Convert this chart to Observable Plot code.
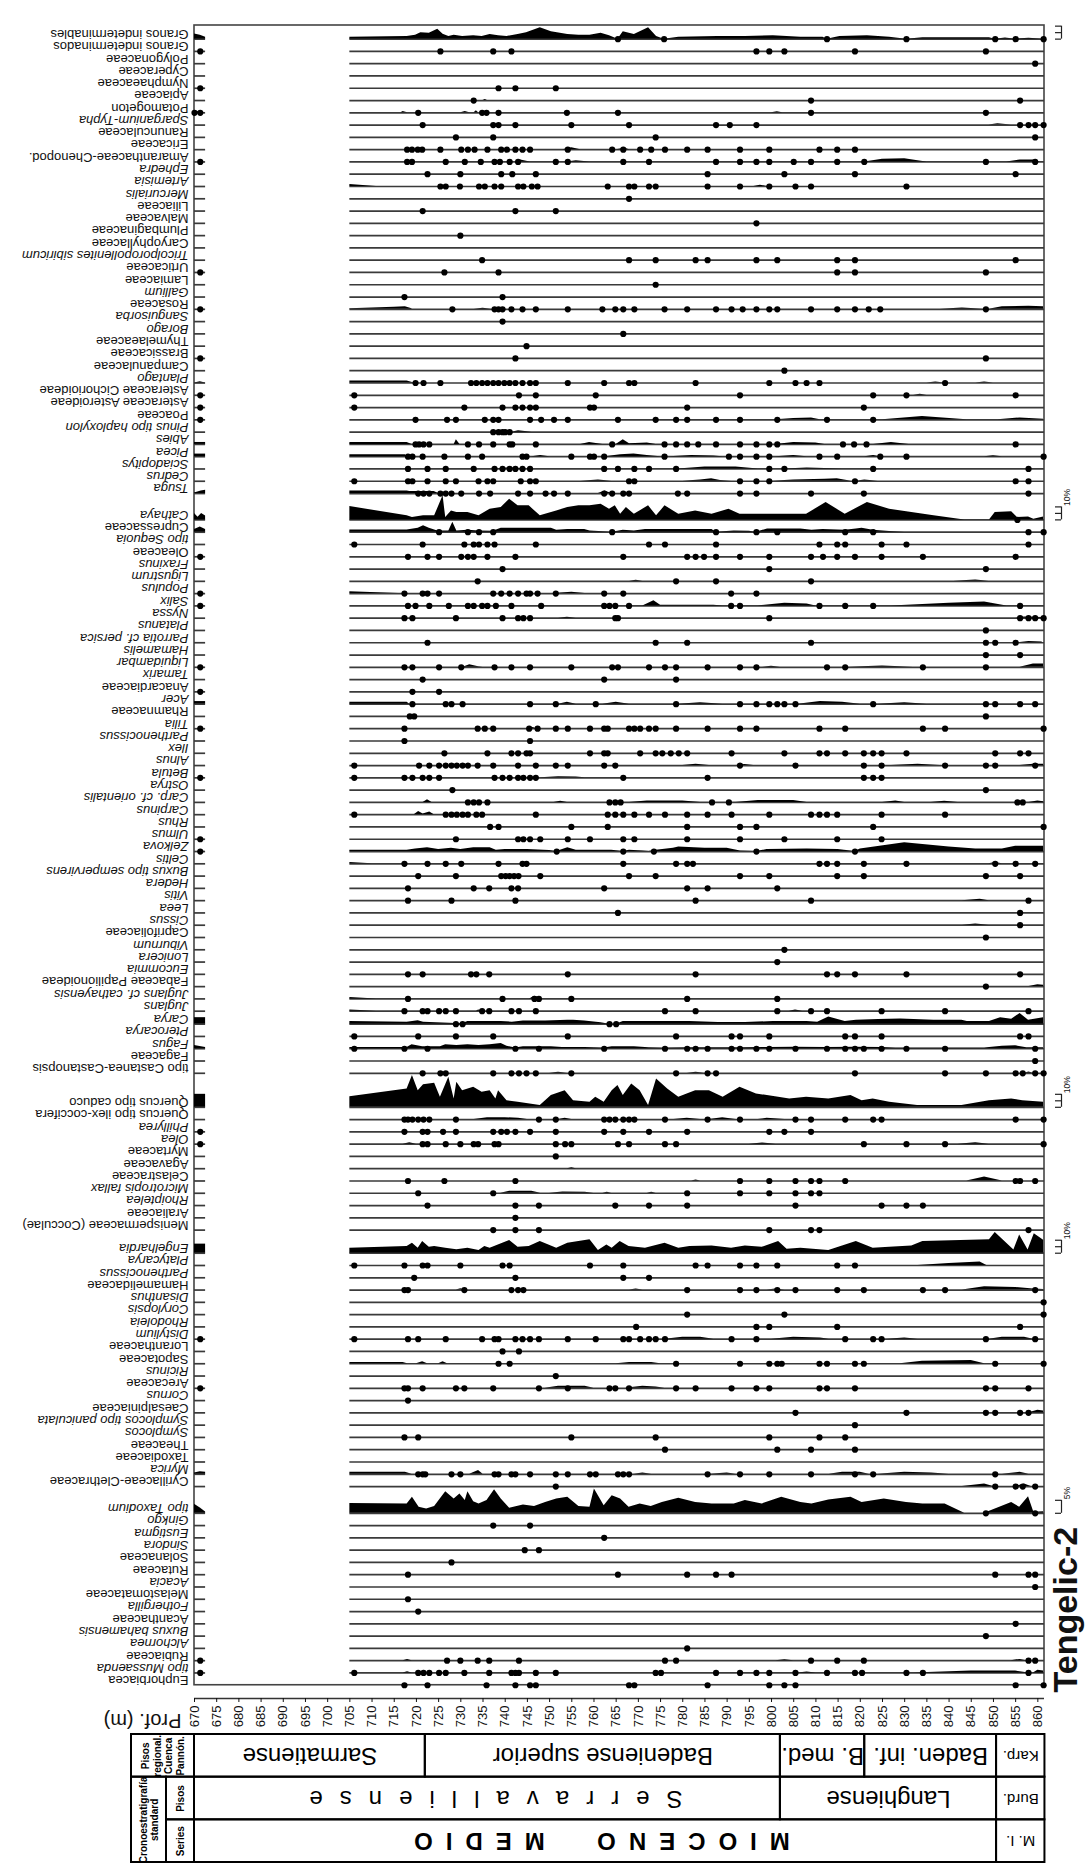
<!DOCTYPE html>
<html><head><meta charset="utf-8">
<script src="https://cdn.jsdelivr.net/npm/d3@7"></script>
<script src="https://cdn.jsdelivr.net/npm/@observablehq/plot@0.6"></script>
<style>
html,body{margin:0;padding:0;background:#fff;}
#chart svg{display:block;overflow:visible;}
</style></head><body><div id="chart"></div>
<script>
// ---------------- DATA ----------------
const depthTicks = [670,675,680,685,690,695,700,705,710,715,720,725,730,735,740,745,750,755,760,765,770,775,780,785,790,795,800,805,810,815,820,825,830,835,840,845,850,855,860];
const depthMin = 670, depthMax = 861.5;
const sampledSpans = [[670, 672.5], [705, 861.5]];

const taxaHerbs = ["Granos indeterminables","Granos indeterminados","Polygonaceae","Cyperaceae","Nymphaeaceae","Apiaceae","Potamogeton","Sparganium-Typha","Ranunculaceae","Ericaceae","Amaranthaceae-Chenopod.","Ephedra","Artemisia","Mercurialis","Liliaceae","Malvaceae","Plumbaginaceae","Caryophyllaceae","Tricolporopollenites sibiricum","Urticaceae","Lamiaceae","Gallium","Rosaceae","Sanguisorba","Borago","Thymelaeaceae","Brassicaceae","Campanulaceae","Plantago","Asteraceae Cichorioideae","Asteraceae Asteroideae","Poaceae","Pinus tipo haploxylon","Abies","Picea","Sciadopitys","Cedrus","Tsuga"];
const taxaTemperate = ["Cathaya","Cupressaceae","tipo Sequoia","Oleaceae","Fraxinus","Ligustrum","Populus","Salix","Nyssa","Platanus","Parrotia cf. persica","Hamamelis","Liquidambar","Tamarix","Anacardiaceae","Acer","Rhamnaceae","Tilia","Parthenocissus","Ilex","Alnus","Betula","Ostrya","Carp. cf. orientalis","Carpinus","Rhus","Ulmus","Zelkova","Celtis","Buxus tipo sempervirens","Hedera","Vitis","Leea","Cissus","Caprifoliaceae","Viburnum","Lonicera","Eucommia","Fabaceae Papilionoideae","Juglans cf. cathayensis","Juglans","Carya","Pterocarya","Fagus","Fagaceae","tipo Castanea-Castanopsis"];
const taxaQuercus = ["Quercus tipo caduco","Quercus tipo ilex-coccifera","Phillyrea","Olea","Myrtaceae","Agavaceae","Celastraceae","Microtropis fallax","Rhoiptelea","Araliaceae","Menispermaceae (Cocculae)"];
const taxaSubtropical = ["Engelhardia","Platycarya","Parthenocissus#2","Hamamelidaceae","Disanthus","Corylopsis","Rhodoleia","Distylium","Loranthaceae","Sapotaceae","Ricinus","Arecaceae","Cornus","Caesalpiniaceae","Symplocos tipo paniculata","Symplocos","Theaceae","Taxodiaceae","Myrica","Cyrillaceae-Clethraceae"];
const taxaTropical = ["tipo Taxodium","Ginkgo","Eustigma","Sindora","Solanaceae","Rutaceae","Acacia","Melastomataceae","Fothergilla","Acanthaceae","Buxus bahamensis","Alchornea","Rubiaceae","tipo Mussaenda","Euphorbiacea"];

// names written in italics (genus level)
const genusLevel = ["Sparganium-Typha","Ephedra","Artemisia","Mercurialis","Tricolporopollenites sibiricum","Gallium","Sanguisorba","Borago","Plantago","Pinus tipo haploxylon","Abies","Picea","Sciadopitys","Cedrus","Tsuga","Cathaya","tipo Sequoia","Fraxinus","Ligustrum","Populus","Salix","Nyssa","Platanus","Parrotia cf. persica","Hamamelis","Liquidambar","Tamarix","Acer","Tilia","Parthenocissus","Ilex","Alnus","Betula","Ostrya","Carp. cf. orientalis","Carpinus","Rhus","Ulmus","Zelkova","Celtis","Buxus tipo sempervirens","Hedera","Vitis","Leea","Cissus","Viburnum","Lonicera","Eucommia","Juglans cf. cathayensis","Juglans","Carya","Pterocarya","Fagus","Phillyrea","Olea","Microtropis fallax","Rhoiptelea","Engelhardia","Platycarya","Parthenocissus#2","Disanthus","Corylopsis","Rhodoleia","Distylium","Ricinus","Cornus","Symplocos tipo paniculata","Symplocos","Myrica","tipo Taxodium","Ginkgo","Eustigma","Sindora","Acacia","Fothergilla","Buxus bahamensis","Alchornea","tipo Mussaenda"];

// presence dots (depth in m)
const dotsHerbs = [
["Granos indeterminables",[765.4,775.8,812.5,830.4,850.4,855,861.3]],
["Granos indeterminados",[671.3,725.4,737.3,741.4,796.6,799.5,802.9,818.8,848.3]],
["Polygonaceae",[859.4]],
["Nymphaeaceae",[671.3,738.5,742.3,751.4]],
["Apiaceae",[732.9,808.9,856]],
["Potamogeton",[670,671.3,720.4,734.8,735.8,738.5,753.9,765.4,808.9,848.3]],
["Sparganium-Typha",[721.4,737.3,738.5,742.3,754.9,767.9,787.5,790.6,796.6,856,857.9,859.4,861.3]],
["Ranunculaceae",[728.9,737.3,773.9,859.4]],
["Ericaceae",[717.9,719,720.3,721.3,725.4,730.1,731.6,733.1,736,739.1,740.4,742.3,743.9,745.6,754.1,764.1,766.6,770.4,772.9,776,781,785.6,792.9,799.5,810.8,814.8,818.8]],
["Amaranthaceae-Chenopod.",[671.3,717.9,719,726.6,730.9,734.5,737.6,738.8,741,742.9,751.4,754.1,766.6,772.4,787.5,792.9,796.6,799.5,805,808.9,814.8,820.9,848.3,859.4]],
["Ephedra",[722.5,729.9,739.1,741.6,746.9,785.6,802.9,818.8,855]],
["Artemisia",[725.4,726.6,729.8,734.1,735.4,737.6,739.1,742.9,744.1,746,747.3,763.1,767.9,769.1,772.4,773.9,785.6,792.9,799.5,805.4,808.9,830.4]],
["Mercurialis",[767.9]],
["Liliaceae",[721.4,742.3,751.4]],
["Malvaceae",[796.6]],
["Plumbaginaceae",[729.9]],
["Tricolporopollenites sibiricum",[734.8,767.9,773.9,782.9,785.6,796.6,801.3,814.8,818.8,855]],
["Urticaceae",[671.3,726.3,738.5,814.8,818.8,848.3]],
["Lamiaceae",[773.9]],
["Gallium",[717.3,739.4]],
["Rosaceae",[671.3,728.1,737.6,738.5,739.4,741.4,743.9,746.9,754.1,761.9,764.8,766.6,769.1,775.9,781,787.5,791,793.5,796.6,799.5,801.3,808.9,814.8,818.8,821.9,824.5,848.3]],
["Sanguisorba",[739.4]],
["Borago",[766.6]],
["Thymelaeaceae",[744.8]],
["Brassicaceae",[671.3,742.3,848.3]],
["Campanulaceae",[802.9]],
["Plantago",[719.8,721.6,725.4,732.3,733.5,734.8,736,737.3,738.5,739.8,741,742.3,743.9,745.6,746.9,754.1,762.3,767.9,769.1,782.9,799.5,805.4,807.9,810.8,839.1]],
["Asteraceae Cichorioideae",[671.3,706,743.1,746.9,760.4,792.9,822.9,830.4,855]],
["Asteraceae Asteroideae",[671.3,706,730.8,739.4,742.3,743.9,745.6,746.9,759.1,760,781,820.8]],
["Poaceae",[671.3,719.8,726.9,728.9,735.4,737.3,738.5,745.6,748.1,751,754.1,765.4,773.9,778.5,781,787.5,792.9,801.3,812.5,822.9]],
["Pinus tipo haploxylon",[737.3,738.5,739.4,740,741]],
["Abies",[719.8,720.6,721.6,722.9,731.6,734.1,737.3,741,741.6,746.9,764.1,775.9,778.5,781,783.5,787.5,792.9,796.6,799.5,801.3,816.1,818.6,821.4,855]],
["Picea",[718.1,719.1,721.4,726.3,731.6,734.8,743.9,744.8,754.9,759.1,760,762.3,775.9,790.4,792.9,796.6,799.5,810.8,814.8,824.5,830.4,861.3]],
["Sciadopitys",[718.1,722.5,726.6,732.9,737.6,739.4,741,742.3,743.9,745.6,762.3,765.4,769.1,772.4,778.5,799.5,802.9,822.9,857.9]],
["Cedrus",[706,718.1,719.1,722.5,726.6,728.9,734,736,737.3,743.5,745.6,746.9,767.9,769.1,792.9,796.6,799.5,818.8,855,857.9]],
["Tsuga",[720.4,721.6,722.9,725.4,726.6,727.9,730.1,734.1,736.6,742.9,745.6,749.1,751,754.1,762.3,764.1,766.6,767.9,778.9,781,792.9,796.6,808.9,820.8,857.9]]
];
const dotsTemperate = [
["Cathaya",[855.4]],
["Cupressaceae",[725.1,731.6,734.1,737.3,764.1,787.5,796.6,801.3,816.6,822.9,857.9,861.3]],
["tipo Sequoia",[706,721.4,730.8,732.9,734.1,736,737.6,746.9,772.4,776,787.5,810.8,814.8,816.6,824.8,830.4,857.9]],
["Oleaceae",[671.3,718.1,722.5,725.1,730.1,731.6,732.9,736,742.3,766.6,781,782.9,784.8,787.5,792.9,799.5,808.9,811.6,814.8,818.8,824.8,834.1,855]],
["Fraxinus",[739.4,799.5,848.3]],
["Ligustrum",[733.8,778.5,787.5,808.9]],
["Populus",[671.3,717.3,721.4,722.5,725.1,737.3,739.1,741,742.9,744.8,745.6,747.3,751.4,762.3,766.6,790.9,796.6]],
["Salix",[671.3,718.1,719.8,722.9,727.3,731.6,732.9,734.8,736,737.9,741.4,748.1,762.3,763.5,764.8,767.9,790.9,792.9,810.8,816.6,822.9,856]],
["Nyssa",[717.3,719.1,728.9,739.4,742.9,744.1,745.6,764.8,765.4,799.5,856,857.9,859.4,861.3]],
["Platanus",[848.3]],
["Parrotia cf. persica",[722.5,773.9,781,808.9,848.3,850.4,855]],
["Hamamelis",[848.3,856]],
["Liquidambar",[671.3,717.3,719.1,725.1,730.1,737.6,741.4,745.6,754.9,764.1,765.4,772.4,776,778.5,785.6,792.9,796.6,812.5,816.6,834.1,848.3]],
["Tamarix",[721.4,762.3,778.5]],
["Anacardiaceae",[671.3,719.1,725.1]],
["Acer",[719.1,726.6,727.9,730.4,745.6,751.4,760.4,778.5,792.9,796.6,799.5,801.3,802.9,805.4,822.9,848.3,850.4,856,859.4]],
["Rhamnaceae",[718.5,719.5,848.3]],
["Tilia",[671.3,717.3,733.8,735.4,737.3,745.4,747.3,751.4,754.1,759.1,762.3,763.1,767.9,769.1,770.4,772.4,773.9,778.5,785.6,792.9,796.6,810.8,816.6,834.1,839.1,861.3]],
["Parthenocissus",[717.3,745.6]],
["Ilex",[726.3,736,741.4,742.9,744.8,745.6,759.1,762.3,763.1,770.4,773.9,775.4,777.3,779.1,781,791,802.9,810.8,812.5,816.6,820.8,822.9,824.8,830.4,850.4,856,857.9]],
["Alnus",[706,720.6,722.9,725.1,726.6,727.9,729.1,730.4,731.6,733.8,737.3,742.9,746.9,751.4,754.1,762.3,764.8,792.9,805.4,820.8,824.8,839.1,848.3,850.4,859.4]],
["Betula",[671.3,706,717.3,719.1,721.4,722.9,725.1,737.6,739.4,741,742.9,744.1,745.6,746.9,766.6,785.6,820.8,822.9,824.8]],
["Ostrya",[728.1,848.3]],
["Carp. cf. orientalis",[731.6,732.9,734.1,736,763.5,764.8,766,786.6,790.4,855.4,856.6]],
["Carpinus",[706,726.6,727.9,729.1,730.4,731.6,733.5,734.8,746.9,763.1,764.8,766.6,769.1,772.4,776,781,785.6,791,799.5,808.9,810.8,812.5,814.8,824.8,839.1]],
["Rhus",[736.6,738.5,754.9,763.1,781,792.9,796.6,822.9,861.3]],
["Ulmus",[671.3,728.9,742.9,744.1,745.6,747.9,754.1,759.1,766.6,769.1,781,792.9,802.9,814.8,824.8]],
["Zelkova",[671.3,751.6,766.6,773.5,796.6,818.8]],
["Celtis",[717.3,722.5,726.6,730.1,738.5,743.9,744.8,766.6,778.5,781,782.3,810.8,812.5,814.8,820.8,830.4,850.4,855,859.4]],
["Buxus tipo sempervirens",[720.4,728.9,739.1,740.1,741,742,743,747.9,767.9,773.9,792.9,799.5,814.8,820.8,848.3,856]],
["Hedera",[718.1,732.9,736.4,741.4,742.9,762.3,781,785.6,801.3]],
["Vitis",[718.1,727.9,742.3,782.9,808.9,857.9]],
["Leea",[765.4,856]],
["Cissus",[856]],
["Caprifoliaceae",[848.3]],
["Viburnum",[802.9]],
["Lonicera",[801.3]],
["Eucommia",[718.1,721.4,732.3,733.5,736.4,754.1,782.9,812.5,814.8,818.8,830.4,856]],
["Fabaceae Papilionoideae",[848.3]],
["Juglans cf. cathayensis",[718.1,739.4,746.6,747.6,754.9,781,801.3]],
["Juglans",[717.3,721.4,722.5,725.1,726.6,728.9,734.8,736.4,741.4,743.1,746.9,776,782.9,801.3,808.9,812.5,824.8,839.1,857.9]],
["Carya",[728.9,730.4,763.5,765]],
["Pterocarya",[706,720.4,728.9,737.3,754.1,778.5,791,792.9,799.5,816.6,818.8,824.8,856,857.9]],
["Fagus",[706,717.3,722.5,742.3,747.6,762.3,776,781,782.9,785.6,791,792.9,796.6,799.5,805.4,812.5,816.6,818.8,820.8,824.8,830.4,839.1,859.4]],
["Fagaceae",[859.4]],
["tipo Castanea-Castanopsis",[721.4,725.4,726.6,737.3,741.4,743.1,744.8,746.9,754.9,778.5,785.6,787.5,818.8,839.1,848.3,855,856.6,859.4,861.3]]
];
const dotsQuercus = [
["Quercus tipo ilex-coccifera",[717.3,718.1,719.1,720.4,721.6,722.9,728.9,747.6,751.4,762.3,763.5,764.8,766.6,767.9,769.1,776,785.6,792.9,805.4,808.9,816.6,822.9,824.8,855,861.3]],
["Phillyrea",[671.3,717.3,721.4,722.5,726,728.9,737.3,739.1,740.4,742.3,745.6,751.4,762.3,766.6,772.4,781,799.5,802.9,808.9]],
["Olea",[671.3,721.4,722.5,726.6,729.9,732.9,733.9,737.6,738.5,751.4,753.5,754.9,765.4,767.9,776,778.5,820.8,830.4,839.1,861.3]],
["Myrtaceae",[751.4]],
["Celastraceae",[718.1,726.3,742.3,792.9,799.5,805.4,808.9,810.8,816.6,855,856,859.4]],
["Microtropis fallax",[720.4,737.3,781,792.9,799.5,805.4,808.9,810.8]],
["Rhoiptelea",[722.5,742.3,747.6,764.8,772.4,781,805.4,824.8,830.4,834.1]],
["Araliaceae",[742.3]],
["Menispermaceae (Cocculae)",[737.3,742.3,747.6,799.5,808.9,810.8,857.9]]
];
const dotsSubtropical = [
["Platycarya",[706,717.3,721.4,722.5,729.9,739.4,741,759.1,766.6,782.9,785.6,792.9,796.6,801.3,814.8,818.8]],
["Parthenocissus#2",[719.5,742.3,766.6,772.4]],
["Hamamelidaceae",[717.3,718.1,730.8,741.4,742.9,744.1,781,792.9,796.6,801.3,805.4,814.8,820.8,834.1,839.1,859.4]],
["Disanthus",[861.3]],
["Corylopsis",[781,802.9,861.3]],
["Rhodoleia",[769.5,796.6,799.5,814.8,856]],
["Distylium",[671.3,706,718.1,720.4,726.6,734.8,737.6,738.5,742.3,743.9,745.6,747.6,754.1,760.4,766.6,767.9,770.4,772.4,773.9,776,791,796.6,816.6,822.9,824.8,848.3,859.4]],
["Loranthaceae",[739.4,743.1]],
["Sapotaceae",[738.5,741,778.5,792.9,799.5,801.3,802.3,810.8,812.5,818.8,820.8,850.4,861.3]],
["Ricinus",[751.4]],
["Arecaceae",[671.3,717.3,718.1,721.4,728.9,730.8,737.3,747.6,754.1,763.5,764.8,767.9,778.5,782.9,791,796.6,799.5,810.8,812.5,818.8,848.3,850.4,857.9]],
["Cornus",[718.1]],
["Caesalpiniaceae",[805.4,830.4,848.3,850.4,856,857.9]],
["Symplocos tipo paniculata",[818.8]],
["Symplocos",[717.3,720.4,754.9,773.9,799.5,810.8,816.6]],
["Theaceae",[776,801.3,808.9,818.8]],
["Myrica",[720.4,721.4,722,727.9,729.9,737.6,738.5,741.4,742.3,745.6,751.4,754.1,759.1,760.4,765.4,766.6,767.9,785.6,792.9,799.5,808.9,818.8,822.9,850.4]],
["Cyrillaceae-Clethraceae",[751.4,850.4,855,856.6,859.4]]
];
const dotsTropical = [
["tipo Taxodium",[848.3,859.4]],
["Ginkgo",[737.3,745.6]],
["Eustigma",[762.3]],
["Sindora",[744.4,747.6]],
["Solanaceae",[727.9]],
["Rutaceae",[718.1,765.4,781,787.5,791,850.4,857.9,859.4]],
["Acacia",[859.4]],
["Melastomataceae",[718.1]],
["Fothergilla",[720.4]],
["Acanthaceae",[855]],
["Buxus bahamensis",[848.3]],
["Alchornea",[781]],
["Rubiaceae",[671.3,726.9,729.9,733.8,736.4,743.1,776,778.5,808.9,814.8,820.8,857.9,859.4]],
["tipo Mussaenda",[671.3,706,720.4,721.6,722.9,725.1,726.6,730.8,736.4,741.4,742.3,743.1,746.9,751.4,773.9,775.1,787.5,792.9,796.6,799.5,805.4,812.5,818.8,820.4,830.4,834.1,857.9]],
["Euphorbiacea",[717.3,722.5,735.8,742.3,745.6,746.9,767.9,769.1,785.6,799.5,802.9,805.4,855,861.3]]
];

// percentage curves [depth, %]
const majorCurves = [
["Granos indeterminables",[[705,1.5],[717.9,2],[719.8,3],[721,5],[722.9,4.5],[724.8,7.7],[726,3.8],[727.3,2],[728.5,3],[730.4,2],[732.9,2.6],[734.8,2],[736.6,3.6],[738.5,2.6],[740.4,2],[742.9,3.6],[744.8,5],[747.9,8.7],[750.4,5.6],[754.1,3.6],[756.6,3],[759.1,3],[761.6,4.6],[763.5,2.6],[765.4,0],[766.6,5.6],[769.1,3.6],[772.3,8.7],[774.1,2],[775.8,0],[779.1,1.5],[787.9,2],[794.1,2],[800.4,2.6],[806.6,1.5],[811.6,1.5],[812.5,0],[815.4,2],[821.6,2.6],[826.6,1.5],[830.4,0],[834.1,1],[849.1,1],[850.4,0],[852.7,0.8],[855,0],[858,0.6],[861.3,0]]],
["Cathaya",[[705,10.3],[717.9,3.1],[719.1,1.8],[721.6,3.1],[724.1,3.1],[726,18.5],[726.6,1.8],[727.9,6.9],[729.1,5.6],[731.6,5.6],[734.1,3.1],[736.6,8.2],[739.1,9.5],[741,15.9],[742.9,10.8],[745.4,10.8],[747.9,3.1],[751.6,6.9],[754.1,9.5],[756.6,10.8],[759.1,10.8],[761.6,12],[763.5,8.2],[764.8,10.8],[766,4.4],[767.3,9.5],[769.1,4.4],[772.3,10.8],[774.1,3.1],[776,10.8],[779.1,4.4],[782.9,6.9],[786.6,4.4],[790.4,8.2],[792.9,4.4],[800.4,4.4],[807.9,4.4],[812.3,13.3],[816.6,4.4],[821.6,13.3],[826.6,8.2],[831.6,5.6],[836.6,3.1],[843.5,0],[849.1,0],[850.4,5.6],[854.1,6.2],[855.4,1.8],[857.9,2.3],[859.1,0.5],[861.3,2.3]]],
["Cupressaceae",[[705,1.8],[717.9,1.8],[720.4,3],[721.6,5],[722.9,3],[724.8,1],[727.3,1],[728.2,7.7],[729.1,1],[731.6,1.5],[734.1,1],[737.3,0.8],[739.1,3],[745,3],[747.9,3],[750.4,3],[751.6,1.5],[754.1,2],[757.9,2],[759.1,1],[764.1,0],[766.6,1.5],[769.1,1],[771.6,2],[781.6,2],[786.6,2],[787.5,0],[791.6,1],[795,0.8],[796.6,0],[799.1,2.5],[806.6,2.5],[809.1,1.5],[811.6,2],[816.6,1.5],[819.1,2.5],[820.4,3],[822.9,1.5],[826.6,0.5],[830,0],[861.3,0]]],
["Zelkova",[[705,1],[717.9,1],[719.8,2],[722.5,3],[725,1.5],[727.9,2.5],[730,1.5],[732.9,3],[736.6,3],[738,1],[740,1.5],[745,1.5],[750,0.8],[751.6,0],[754.1,3],[756,1],[760,1],[764,1],[766.6,0],[768,1],[771,0.5],[772.4,0],[774,1],[777.9,2.5],[779.1,3.5],[785,2.5],[790,2.5],[793,0.5],[796.6,0],[799,1.5],[808,2],[815,1.5],[818.8,0],[820,2],[830,6.7],[840,3.5],[846,2],[852,2],[855,4],[861.3,4]]],
["Carya",[[705,2],[717.9,1.5],[720.4,2.6],[721.6,1.5],[728.9,0.5],[730.4,0.5],[731.6,2],[739.1,2],[741.6,1.5],[744.1,2.5],[749.1,2.5],[754.1,3],[755.4,3],[757.9,2.5],[761.6,1],[763.5,0],[765,0],[766.6,2],[781.6,2],[788,1.3],[794.1,1.3],[800.4,2],[808,2],[810.4,1.5],[812.9,5.6],[816.6,2],[819.1,3],[824.1,3.6],[829.1,3.9],[836.6,3],[842.9,3],[844.1,2],[849.1,2],[851.6,5],[854.1,3.8],[856,8.2],[857.9,3],[861.3,5]]],
["Fagus",[[705,1],[717.9,1],[719,3],[721.4,1.5],[725.4,1.5],[726.6,3],[729.1,2.5],[731.6,3],[734.1,2.5],[736.6,3],[739.1,4],[740.4,2],[742.3,0.5],[744.1,1.5],[750.4,1.5],[752.9,1],[757.9,1],[762.3,0.5],[764.1,1.5],[769.1,1.5],[772.4,0.8],[775.4,0.5],[781,0.8],[792.9,0.8],[799.5,1],[805,1.2],[812.5,1],[818.8,1.2],[824.8,1],[828,0.5],[848,0.5],[852,2],[855,2.2],[857.5,0.8],[861.3,0.8]]],
["Quercus tipo caduco",[[705,8.2],[717.9,14.1],[719.1,24.4],[720.4,12.8],[721.6,17.4],[724.1,18.5],[725.4,7.7],[727.3,23.1],[728.5,6.4],[729.1,19.2],[730.4,12.8],[732.9,15.4],[734.8,11.5],[736.6,12.8],[737.9,6.4],[738.5,12.8],[740.4,5.1],[742.9,3.8],[747.9,1.3],[750.4,9],[753.5,12.8],[755.4,5.1],[759.1,3.8],[760.4,7.7],[762.3,3.8],[764.1,12.8],[765.4,16.7],[766.6,9],[768.5,17.9],[770.4,12.8],[772.3,1.3],[774.1,21.8],[776.6,14.1],[779.1,7.7],[782.9,12.8],[786,12.8],[789.1,7.7],[792.9,15.4],[796.6,10.3],[801.6,7.7],[804.1,6.4],[807.9,7.7],[812.9,6.4],[817.9,9],[820.4,5.1],[822.9,6.4],[826.6,3.8],[832.9,1.3],[842.9,1.3],[849.1,5.1],[854.1,6.4],[856.6,5.1],[861.3,3.8]]],
["Engelhardia",[[705,3.8],[717.9,5.1],[719.1,7.7],[720.4,3.8],[721.4,9],[722.9,4.6],[724.1,5.1],[726.6,3.8],[729.1,2.6],[731.6,3.8],[734.1,2],[735.4,5.1],[736.6,3.8],[741,9.7],[742.9,4.6],[745.4,5.1],[747.9,9],[751.6,3.8],[754.1,7.7],[759.1,10.3],[761,2],[762.9,6.4],[764.1,3.8],[765.9,9],[767.9,5.1],[771.6,3.8],[776,7.7],[779.1,3.8],[781.6,5.1],[786.6,5.6],[791,3.8],[794.1,5.6],[797.9,4.6],[801.6,9],[803.5,3.1],[806.6,3.8],[812.9,2],[819.1,9],[822.9,3.8],[826.6,4.6],[831.6,5.6],[834.1,9],[849.1,10.3],[850.4,16],[854.6,2.5],[855.9,14],[857.8,2.5],[859.2,15],[861.3,10]]],
["tipo Taxodium",[[705,3.8],[717.9,3.6],[719.1,6.2],[720.6,2.3],[722.3,1.7],[724.1,2.6],[726.6,8.3],[728.5,5.5],[729.8,7.4],[731,4.9],[731.6,8.3],[732.9,4.4],[734.1,3.6],[735.9,4.9],[737.6,9.1],[739.1,5.5],[741,1.9],[744.1,3.2],[746.6,2.6],[749.1,4.2],[751.6,5.5],[754.1,6.2],[756.6,2.6],[759.1,2.3],[760.1,9.4],[762.3,2.9],[764.1,6.8],[766,5.5],[767.9,2.3],[770.4,3.6],[772.9,2.6],[775.4,4.2],[779.1,5.8],[782.9,4.2],[786.6,3.6],[791.6,3.6],[794.1,4.9],[797.9,3.6],[802.3,6.2],[806.6,4.2],[809.1,3.6],[812.9,5.1],[817.9,6.2],[820.4,4.2],[825.4,5.5],[830.4,4.2],[834.1,3.6],[839.1,3.6],[843.5,0],[848,0],[854.1,4.2],[855.9,2.3],[857.9,6.4],[859.1,0.4],[861.3,0.6]]]
];

// small silhouettes [depth, %]
const minorCurves = [
["Potamogeton",[[716.5,0],[717,1],[718,0]]],["Potamogeton",[[730,0],[731,1],[732,0]]],["Potamogeton",[[733,0],[733.5,1.5],[734,0]]],["Potamogeton",[[800,0],[801.3,0.8],[802.5,0]]],
["Apiaceae",[[735,0],[735.5,0.8],[736,0]]],
["Sparganium-Typha",[[849,0],[851,1],[854,0]]],
["Ericaceae",[[753,0],[755,1.5],[757,0]]],["Ericaceae",[[765,0],[767,1],[768,0]]],
["Amaranthaceae-Chenopod.",[[742.3,0],[743.5,1.5],[745.6,0]]],["Amaranthaceae-Chenopod.",[[754,0],[756,1],[759,0]]],["Amaranthaceae-Chenopod.",[[821,0],[825,2],[830,2.5],[833,1],[835,0]]],["Amaranthaceae-Chenopod.",[[853,0],[856,1.5],[859,1.5],[860.5,0]]],
["Artemisia",[[705,1.5],[711,0]]],["Artemisia",[[796,0],[797.5,1],[799,0]]],
["Rosaceae",[[705,0.5],[715,1.5],[717.5,2],[719,0.5]]],["Rosaceae",[[733,0],[735,0.8],[737,0]]],["Rosaceae",[[838,0],[843,1],[848,0]]],["Rosaceae",[[849,0],[852,2],[858,2.3],[861.3,2]]],
["Plantago",[[705,1.5],[717.9,1.5],[719.5,0]]],["Plantago",[[835,0],[837,0.8],[839,0]]],["Plantago",[[846,0],[848,0.8],[850,0]]],
["Asteraceae Cichorioideae",[[832,0],[833.5,0.8],[835,0]]],
["Poaceae",[[801,0],[805,1],[809,1.5],[811,0]]],["Poaceae",[[825,0],[834,2.5],[844,0]]],["Poaceae",[[851,0],[856,1.5],[861.3,0.5]]],
["Pinus tipo haploxylon",[[741.5,0],[743,1],[746,0]]],
["Abies",[[705,1.5],[717.9,1.5],[719,0]]],["Abies",[[728.5,0],[729,3.5],[729.8,0]]],["Abies",[[757,0],[759,1.5],[762,0]]],["Abies",[[765,0],[766.6,3.5],[768,0.5],[772,1],[774,0]]],["Abies",[[801,0],[805,1.5],[810,1],[812,0]]],["Abies",[[823,0],[827,1.5],[831,0]]],
["Picea",[[705,1.5],[717.5,1.5],[718,0]]],["Picea",[[746,0],[748,1],[750,0]]],["Picea",[[762.5,0],[766,1.5],[769,2],[772,1],[775,0]]],["Picea",[[777,0],[782,1],[787,0.5],[789,0]]],["Picea",[[801,0],[805,1],[808,0]]],["Picea",[[821,0],[823,1],[824.5,0]]],["Picea",[[848,0],[850,0.8],[852,0]]],
["Sciadopitys",[[738,0],[741,1],[745,0]]],["Sciadopitys",[[779,0],[785,1.5],[792,1.5],[797,0]]],["Sciadopitys",[[803,0],[808,0.8],[816,0]]],
["Cedrus",[[757,0],[761,1],[764,0]]],["Cedrus",[[780,0],[784,1],[786.5,2],[788.5,0.5],[791,0]]],["Cedrus",[[800,0],[805,1],[812,1.5],[814.8,2],[818,0]]],["Cedrus",[[819,0],[821,1],[824,0]]],
["Tsuga",[[705,2],[717.9,2],[718.5,1.5],[724,1.5],[725,0]]],["Tsuga",[[761,0],[762.5,2],[764,0]]],
["Ligustrum",[[768,0],[769.5,0.8],[771,0]]],["Ligustrum",[[841,0],[846,1],[849,0]]],
["Populus",[[705,1.5],[716,0]]],["Populus",[[751,0],[755,1],[758,0]]],
["Salix",[[771,0],[773.5,4],[775,0.5],[787,0.5],[789,0]]],["Salix",[[797,0],[803,2],[808,1.5],[810,0]]],["Salix",[[827,0],[840,2],[848,3],[853,0]]],
["Nyssa",[[752,0],[754,0.8],[756,0]]],["Nyssa",[[855,0],[857,1],[861,0.5]]],
["Parrotia cf. persica",[[855.5,0],[858,1],[861,0.5]]],
["Liquidambar",[[730.5,0],[732,2],[734,0.5],[735,0]]],["Liquidambar",[[798,0],[800,0.8],[802,0]]],["Liquidambar",[[817,0],[825,1],[832,0]]],["Liquidambar",[[856,0],[859,2.5],[861.3,2.5]]],
["Acer",[[705,1.5],[717.9,1.5],[718.5,0]]],["Acer",[[752,0],[754,1.5],[756,0]]],["Acer",[[762,0],[765,1.5],[768,0]]],["Acer",[[779,0],[784,1],[789,0]]],["Acer",[[806,0],[811,2],[816,1.5],[820,0]]],["Acer",[[824,0],[830,1],[835,0]]],
["Tilia",[[745.5,0],[746.3,1],[747,0]]],
["Alnus",[[780,0],[783,1],[786,0]]],["Alnus",[[792,0],[794,0.8],[796,0]]],["Alnus",[[827,0],[833,1],[838,0]]],["Alnus",[[856,0],[859,1],[861.3,1]]],
["Betula",[[748,0],[752,0.8],[756,0.6],[758,0]]],
["Carp. cf. orientalis",[[721.5,0],[722.5,2],[723.5,0]]],["Carp. cf. orientalis",[[751,0],[752.5,0.8],[754,0]]],["Carp. cf. orientalis",[[768,0],[772,1],[780,1],[784,0]]],["Carp. cf. orientalis",[[792,0],[797,1.5],[805,1.5],[808,0]]],["Carp. cf. orientalis",[[825,0],[828,1],[830,0]]],["Carp. cf. orientalis",[[836,0],[839,0.8],[842,0]]],["Carp. cf. orientalis",[[858,0],[860,1],[861.3,0.5]]],
["Carpinus",[[719.5,0],[720.5,2.5],[721.5,0.5],[723,2],[724,0]]],
["Celtis",[[705,1],[710,0]]],["Celtis",[[849,0],[850.4,1],[852,0]]],
["Vitis",[[843,0],[847,1],[849,0]]],
["Cissus",[[843,0],[846,1],[849,0]]],
["Fabaceae Papilionoideae",[[858,0],[860,1.5],[861.3,1]]],
["Juglans cf. cathayensis",[[705,1],[711,0]]],["Juglans cf. cathayensis",[[745.5,0],[746.6,2],[747.6,1],[748.5,0]]],
["Juglans",[[705,1],[711,0]]],["Juglans",[[733.5,0],[734,1],[735,0]]],["Juglans",[[804,0],[805.4,1],[807,0]]],
["tipo Castanea-Castanopsis",[[750,0],[752,0.8],[754,0]]],["tipo Castanea-Castanopsis",[[781,0],[783,0.8],[785,0]]],["tipo Castanea-Castanopsis",[[857,0],[858,1],[859,0]]],
["Quercus tipo ilex-coccifera",[[733,0],[736,1.5],[740,1.5],[743,1],[745,0]]],["Quercus tipo ilex-coccifera",[[752,0],[753.5,1],[755,0]]],["Quercus tipo ilex-coccifera",[[778,0],[781,1],[784,0]]],["Quercus tipo ilex-coccifera",[[786,0],[789,1.5],[792,0]]],["Quercus tipo ilex-coccifera",[[797,0],[799,1],[803,0]]],
["Olea",[[717,0],[718.5,1],[720,0]]],["Olea",[[795,0],[798,0.8],[801,0]]],["Olea",[[842,0],[846,1],[849,0]]],
["Agavaceae",[[754,0],[755,0.8],[756,0]]],
["Celastraceae",[[782,0],[783,0.8],[784,0]]],["Celastraceae",[[844,0],[848,3],[852,0]]],
["Microtropis fallax",[[739,0],[741,1.5],[746,1.5],[748,0]]],["Microtropis fallax",[[750,0],[753,1],[758,0.8],[760,0]]],["Microtropis fallax",[[762,0],[763,0.8],[764,0]]],["Microtropis fallax",[[772,0],[773,0.8],[774,0]]],
["Platycarya",[[833,0],[840,1.5],[847,2.6],[848.5,0]]],
["Hamamelidaceae",[[729,0],[730,1],[731,0]]],["Hamamelidaceae",[[768,0],[769.5,0.8],[771,0]]],["Hamamelidaceae",[[799,0],[801,0.8],[803,0]]],["Hamamelidaceae",[[843,0],[848,2.5],[855,2],[859,0.8],[861.3,0.5]]],
["Distylium",[[776,0],[780,1.5],[784,1.5],[787,0]]],["Distylium",[[800,0],[805,1.5],[811,1],[813,0]]],["Distylium",[[826,0],[830,1],[833,0]]],["Distylium",[[849,0],[852,1.5],[857,1.5],[859,0]]],
["Sapotaceae",[[705,1],[717,1],[718,0]]],["Sapotaceae",[[720,0],[721.4,1.5],[722.5,0]]],["Sapotaceae",[[725,0],[726,1.5],[727,0]]],["Sapotaceae",[[765,0],[768,1],[773,1],[775,0]]],["Sapotaceae",[[829,0],[834,2],[845,2.5],[848,0]]],
["Arecaceae",[[749,0],[752,1.5],[758,1.5],[760,0]]],["Arecaceae",[[767,0],[771,1.5],[774,1],[776,0]]],
["Caesalpiniaceae",[[858,0],[860,2],[861.3,1.5]]],
["Myrica",[[705,1.5],[717.5,1.5],[719,0]]],["Myrica",[[732,0],[734,3],[735,0]]],["Myrica",[[769,0],[771,1],[773,0]]],["Myrica",[[786,0],[790,1],[792,0]]],["Myrica",[[813,0],[816,1.5],[820,1.5],[822,0]]],["Myrica",[[824,0],[830,1.5],[836,1],[840,0]]],["Myrica",[[852,0],[856,1.5],[858,0]]],
["Cyrillaceae-Clethraceae",[[843,0],[848,2],[850,0]]],["Cyrillaceae-Clethraceae",[[855,0],[857,2],[858.5,0]]],
["Rubiaceae",[[717,0],[718,1],[719,0]]],["Rubiaceae",[[801,0],[803,0.8],[805,0]]],["Rubiaceae",[[854,0],[856,1],[857.5,0]]],
["tipo Mussaenda",[[717,0],[718,1],[719,0]]],["tipo Mussaenda",[[806,0],[808,0.8],[810,0]]],["tipo Mussaenda",[[832,0],[845,1.5],[855,1.5],[858,0]]],["tipo Mussaenda",[[859,0],[860,2],[861.3,1.5]]]
];

// top sample (670–672.5 m)
const stubCurves = [
["Granos indeterminables",[[670,4],[671.3,3],[672.5,1.5]]],
["Potamogeton",[[670,1.5],[671.3,0.5],[672.5,0]]],
["Plantago",[[670,0],[671.3,1],[672.5,0]]],
["Abies",[[670,1.5],[672.5,1.5]]],
["Picea",[[670,2],[672.5,2]]],
["Tsuga",[[670,0.5],[671.5,2],[672.5,2.5]]],
["Cathaya",[[670,5],[670.8,2],[671.6,5],[672.5,3]]],
["Cupressaceae",[[670,2],[671.3,4],[672.5,2]]],
["Acer",[[670,2],[672.5,2]]],
["Carya",[[670,5],[672.5,5]]],
["Fagus",[[670,2.5],[672.5,1]]],
["Quercus tipo caduco",[[670,10],[672.5,10]]],
["Engelhardia",[[670,7],[672.5,7]]],
["Myrica",[[670,1],[671.3,2],[672.5,1.5]]],
["tipo Taxodium",[[670,3.5],[671.3,2],[672.5,0.5]]]
];

const doubledScale = ["tipo Taxodium"];           // 5 % bar instead of 10 %
const scaleBarTaxa = ["Granos indeterminables","Cathaya","Quercus tipo caduco","Engelhardia","tipo Taxodium"];
const scaleBarPct = [10,10,10,10,5];
const scaleBarText = ["","10%","10%","10%","5%"];

// stratigraphy
const regionalStages = ["Sarmatiense","Badeniense superior","B. med.","Baden. inf.","Karp."];
const regionalBounds = [670,722,802,821,850.7,861.6];
const standardStages = ["Serravalliense","Langhiense","Burd."];
const standardBounds = [670,802,850.7,861.6];
const seriesNames = ["MIOCENO\u00a0\u00a0MEDIO","M. I."];
const seriesBounds = [670,850.7,861.6];

// ---------------- LAYOUT ----------------
const FONT = "'Liberation Sans', Arial, Helvetica, sans-serif";
const taxa = [...taxaHerbs, ...taxaTemperate, ...taxaQuercus, ...taxaSubtropical, ...taxaTropical];
const ROW_PER_PCT = 0.1057;                 // 10 % = 1.06 row spacings
const exagg = n => doubledScale.includes(n) ? 2 : 1;
const allCurves = [...majorCurves, ...minorCurves, ...stubCurves];
const maxPct = new Map();
for (const [n, pts] of allCurves) for (const [, v] of pts) maxPct.set(n, Math.max(maxPct.get(n) || 0, v));
const pos = new Map();
let u = 0;
taxa.forEach((n, i) => {
  const h = (maxPct.get(n) || 0) * ROW_PER_PCT * exagg(n);
  const gap = Math.max(0, h - 0.81);
  u += (i === 0 ? 0 : 1) + gap;
  pos.set(n, u);
});
const topU = -1.0, lastU = u, axisU = lastU + 1.08;
const labelOf = n => n.replace(/#\d+$/, "");

const baseRows = taxa.slice(0, -1).flatMap(n => sampledSpans.map(([a, b]) => ({n, a, b, base: pos.get(n)})));
const areaRows = allCurves.flatMap(([n, pts], j) => pts.map(([d, v]) => ({key: j, d, base: pos.get(n), top: pos.get(n) - v * ROW_PER_PCT * exagg(n)})));
const dotRows = [...dotsHerbs, ...dotsTemperate, ...dotsQuercus, ...dotsSubtropical, ...dotsTropical]
  .flatMap(([n, ds]) => ds.map(d => ({d, base: pos.get(n)})));
const labelRows = taxa.map(n => ({n, label: labelOf(n), base: pos.get(n), italic: genusLevel.includes(n)}));

const xs = d3.scaleLinear([depthMin, depthMax], [194, 1044]);
const xSpine = xs.invert(1061), xTickL = xs.invert(1055), xText = xs.invert(1067);
const barRows = scaleBarTaxa.map((n, i) => ({base: pos.get(n), top: pos.get(n) - scaleBarPct[i] * ROW_PER_PCT * exagg(n), text: scaleBarText[i], pct: scaleBarPct[i], n}));
const barTicks = barRows.flatMap(b => d3.range(0, b.pct + 0.1, 5).map(t => ({y: b.base - t * ROW_PER_PCT * exagg(b.n)})));

const main = Plot.plot({
  width: 1085, height: 1733,
  marginLeft: 194, marginRight: 41, marginTop: 25, marginBottom: 35,
  style: {fontFamily: FONT, fontSize: "13px", background: "white", overflow: "visible", color: "#111"},
  x: {domain: [depthMin, depthMax]},
  y: {domain: [axisU, topU], axis: null},
  marks: [
    Plot.rect([0], {x1: () => depthMin, x2: () => depthMax, y1: () => topU, y2: () => lastU, fill: "none", stroke: "#444", strokeWidth: 1.6}),
    Plot.ruleY(baseRows, {y: "base", x1: "a", x2: "b", stroke: "#3a3a3a", strokeWidth: 1.7}),
    Plot.areaY(areaRows, {x: "d", y1: "base", y2: "top", z: "key", fill: "#000", curve: "linear"}),
    Plot.dot(dotRows, {x: "d", y: "base", r: 3.1, fill: "#000"}),
    Plot.text(labelRows.filter(d => !d.italic), {x: () => depthMin, y: "base", text: "label", rotate: 180, textAnchor: "start", dx: -6, dy: -5, fontSize: 13, fill: "#111"}),
    Plot.text(labelRows.filter(d => d.italic), {x: () => depthMin, y: "base", text: "label", rotate: 180, textAnchor: "start", dx: -6, dy: -5, fontSize: 13, fontStyle: "italic", fill: "#111"}),
    Plot.ruleX(barRows, {x: () => xSpine, y1: "base", y2: "top", stroke: "#222", strokeWidth: 1.2}),
    Plot.ruleY(barTicks, {y: "y", x1: () => xTickL, x2: () => xSpine, stroke: "#222", strokeWidth: 1.2}),
    Plot.text(barRows.filter(d => d.text), {x: () => xText, y: "top", text: "text", rotate: -90, textAnchor: "start", dy: -1, fontSize: 8.5}),
    Plot.ruleY([axisU], {x1: () => depthMin, x2: () => depthMax, stroke: "#333", strokeWidth: 1.4}),
    Plot.axisX({ticks: depthTicks, tickRotate: -90, tickSize: 4, tickPadding: 3, fontSize: 13, label: null}),
    Plot.text(["Prof. (m)"], {frameAnchor: "bottom-left", text: d => d, rotate: 180, textAnchor: "middle", lineAnchor: "middle", dx: -52, dy: 22, fontSize: 20}),
    Plot.text(["Tengelic-2"], {frameAnchor: "bottom-right", text: d => d, rotate: -90, textAnchor: "start", lineAnchor: "middle", dx: 22, dy: -6, fontSize: 34, fontWeight: "bold"})
  ]
});

// ---------------- STRATIGRAPHY TABLE ----------------
const hdrL = xs.invert(131), hdrM = xs.invert(166);
const mk = (names, bounds, row) => names.map((s, i) => ({x1: bounds[i], x2: bounds[i + 1], y1: row, y2: row + 1, text: s}));
const cells = [...mk(regionalStages, regionalBounds, 0), ...mk(standardStages, standardBounds, 1), ...mk(seriesNames, seriesBounds, 2)];
const headers = [
  {x1: hdrL, x2: depthMin, y1: 0, y2: 1, text: "Pisos\nregional.\nCuenca\nPannón."},
  {x1: hdrL, x2: hdrM, y1: 1, y2: 3, text: "Cronoestratigrafía\nstandard"},
  {x1: hdrM, x2: depthMin, y1: 1, y2: 2, text: "Pisos"},
  {x1: hdrM, x2: depthMin, y1: 2, y2: 3, text: "Series"}
];
const narrow = d => xs(d.x2) - xs(d.x1) < 70;
const mid = d => (d.x1 + d.x2) / 2, midY = d => (d.y1 + d.y2) / 2;
const table = Plot.plot({
  width: 1085, height: 130,
  marginLeft: 194, marginRight: 41, marginTop: 1, marginBottom: 1,
  style: {fontFamily: FONT, background: "white", overflow: "visible", color: "#000"},
  x: {domain: [depthMin, depthMax], axis: null},
  y: {domain: [3, 0], axis: null},
  marks: [
    Plot.rect([...cells, ...headers], {x1: "x1", x2: "x2", y1: "y1", y2: "y2", fill: "none", stroke: "#000", strokeWidth: 2}),
    Plot.text(cells.filter(d => !narrow(d) && d.y1 < 2), {x: mid, y: midY, text: "text", rotate: 180, fontSize: 24}),
    Plot.text(cells.filter(d => !narrow(d) && d.y1 === 2), {x: mid, y: midY, text: "text", rotate: 180, fontSize: 24, fontWeight: "bold"}),
    Plot.text(cells.filter(narrow), {x: mid, y: midY, text: "text", rotate: 180, fontSize: 15}),
    Plot.text(headers, {x: mid, y: midY, text: "text", rotate: -90, fontSize: 10, fontWeight: "bold", lineHeight: 1.15})
  ]
});
d3.select(table).selectAll("text").each(function () {
  const t = this.textContent;
  if (t === "Serravalliense") this.setAttribute("letter-spacing", "17");
  if (t.startsWith("MIOCENO")) this.setAttribute("letter-spacing", "13");
});

document.getElementById("chart").append(main, table);
</script></body></html>
